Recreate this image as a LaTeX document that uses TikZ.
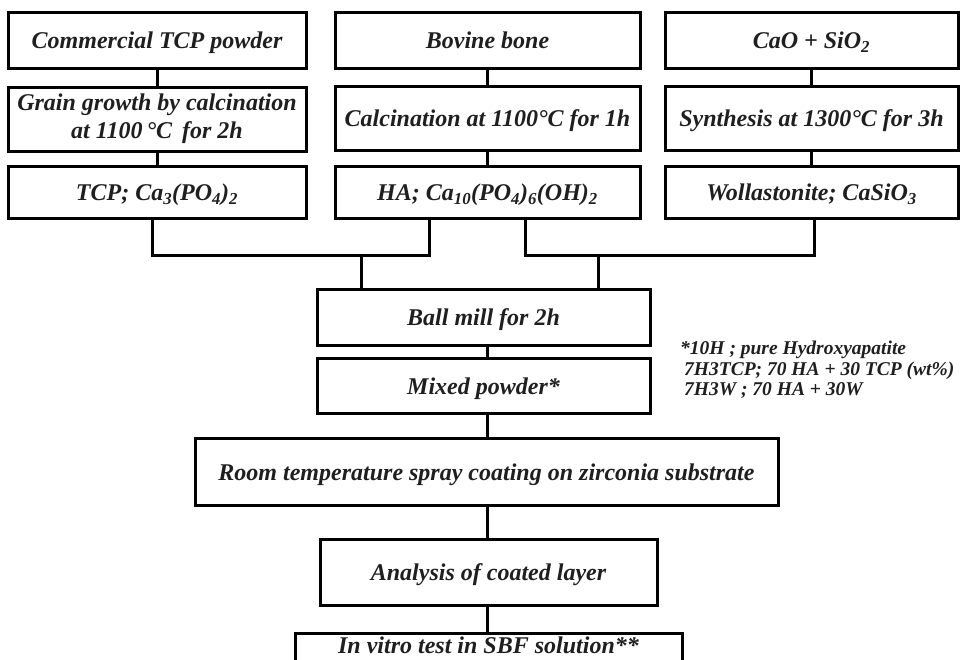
\documentclass[tikz,border=0pt]{standalone}
\usepackage{fontspec}
\setmainfont{Liberation Serif}
\usetikzlibrary{calc}
\tikzset{
  box/.style={draw=black, line width=3pt, rectangle, inner sep=0pt, align=center,
    font=\fontsize{24}{28}\selectfont\bfseries\itshape, text=black!88},
  oneline/.style={text height=19pt, text depth=2pt},
  conn/.style={draw=black, line width=3pt},
  note/.style={font=\fontsize{19.5}{20.5}\selectfont\bfseries\itshape, text=black!88, anchor=north west, align=left, inner sep=0pt}
}
\begin{document}
\begin{tikzpicture}[x=1pt,y=-1pt]
\useasboundingbox (0,0) rectangle (963,659);
\clip (0,0) rectangle (963,659);
\fill[white] (0,0) rectangle (963,659);
% row 1
\node[box, oneline, minimum width=298pt, minimum height=56pt] (a1) at (157,40) {Commercial TCP powder};
\node[box, oneline, minimum width=305pt, minimum height=56pt] (b1) at (487.5,40) {Bovine bone};
\node[box, oneline, minimum width=293pt, minimum height=56pt] (c1) at (811.5,40) {CaO + SiO\textsubscript{2}};
% row 2
\node[box, minimum width=298pt, minimum height=64pt] (a2) at (157,119) {Grain growth by calcination\\at 1100\,°C\, for 2h};
\node[box, oneline, minimum width=305pt, minimum height=64pt] (b2) at (487.5,118) {Calcination at 1100°C for 1h};
\node[box, oneline, minimum width=293pt, minimum height=64pt] (c2) at (811.5,118) {Synthesis at 1300°C for 3h};
% row 3
\node[box, oneline, minimum width=298pt, minimum height=52pt] (a3) at (157,192) {TCP; Ca\textsubscript{3}(PO\textsubscript{4})\textsubscript{2}};
\node[box, oneline, minimum width=305pt, minimum height=52pt] (b3) at (487.5,192) {HA; Ca\textsubscript{10}(PO\textsubscript{4})\textsubscript{6}(OH)\textsubscript{2}};
\node[box, oneline, minimum width=293pt, minimum height=52pt] (c3) at (811.5,192) {Wollastonite; CaSiO\textsubscript{3}};
% lower chain
\node[box, oneline, minimum width=333pt, minimum height=56pt] (ball) at (483.5,317) {Ball mill for 2h};
\node[box, oneline, minimum width=333pt, minimum height=55pt] (mix) at (483.5,385.5) {Mixed powder*};
\node[box, oneline, minimum width=583pt, minimum height=67pt] (room) at (486.5,471.5) {Room temperature spray coating on zirconia substrate};
\node[box, oneline, minimum width=337pt, minimum height=66pt] (ana) at (488.5,572) {Analysis of coated layer};
\node[box, minimum width=387pt, minimum height=57pt, text height=12pt, text depth=29pt] (vit) at (488.5,661.5) {In vitro test in SBF solution**};
% note
\node[note] (nt) at (680,341) {*10H ; pure Hydroxyapatite\\
\hspace*{4pt}7H3TCP; 70 HA + 30 TCP (wt\%)\\
\hspace*{4pt}7H3W ; 70 HA + 30W};
% connectors
\draw[conn] (a1) -- (a2);
\draw[conn] (a2) -- (a3);
\draw[conn] (b1) -- (b2);
\draw[conn] (b2) -- (b3);
\draw[conn] (c1) -- (c2);
\draw[conn] (c2) -- (c3);
\coordinate (jl) at (361,254);
\coordinate (jr) at (598,254);
\draw[conn] ($(a3.south)+(-5,0)$) |- ($(b3.south)+(-58.5,36)$) -- ($(b3.south)+(-58.5,0)$);
\draw[conn] ($(b3.south)+(37.5,0)$) |- ($(c3.south)+(2.5,36)$) -- ($(c3.south)+(2.5,0)$);
\draw[conn] (jl) -- (jl |- ball.north);
\draw[conn] (jr) -- (jr |- ball.north);
\coordinate (m1) at (487,0);
\draw[conn] (m1 |- ball.south) -- (m1 |- mix.north);
\draw[conn] (m1 |- mix.south) -- (m1 |- room.north);
\draw[conn] (m1 |- room.south) -- (m1 |- ana.north);
\draw[conn] (m1 |- ana.south) -- (m1 |- vit.north);
\end{tikzpicture}
\end{document}
